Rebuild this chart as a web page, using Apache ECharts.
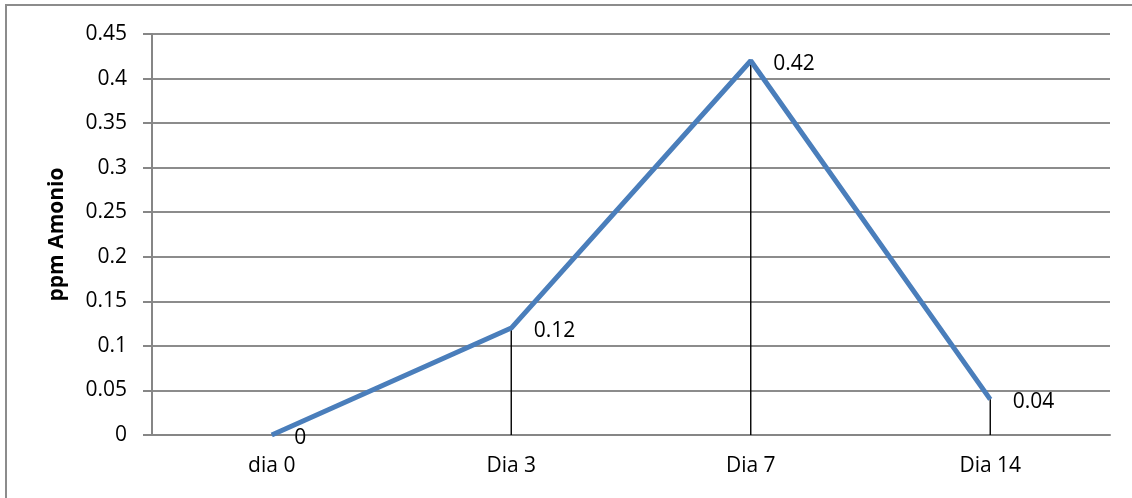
<!DOCTYPE html>
<html>
<head>
<meta charset="utf-8">
<script src="https://cdn.jsdelivr.net/npm/echarts@6/dist/echarts.min.js"></script>
<style>
  html, body { margin: 0; padding: 0; background: #fff; }
  #chart { width: 1132px; height: 498px; }
</style>
</head>
<body>
<div id="chart"></div>
<script>
// Ammonium concentration over the sampling days
const days = ['dia 0', 'Dia 3', 'Dia 7', 'Dia 14'];
const ammonium = [0, 0.12, 0.42, 0.04];
const yTicks = [0, 0.05, 0.1, 0.15, 0.2, 0.25, 0.3, 0.35, 0.4, 0.45];

const font = '"Open Sans", "Liberation Sans", sans-serif';
const fs = 21;
const chart = echarts.init(document.getElementById('chart'), null, { renderer: 'canvas' });

chart.setOption({
  animation: false,
  backgroundColor: '#fff',
  graphic: [{
    type: 'rect',
    shape: { x: 6, y: 5, width: 1140, height: 510 },
    style: { fill: 'none', stroke: '#8c8c8c', lineWidth: 2 },
    silent: true
  }],
  grid: { left: 152, right: 22, top: 34, bottom: 63 },
  xAxis: {
    type: 'category',
    data: days,
    boundaryGap: true,
    axisLine: { lineStyle: { color: '#868686', width: 2 } },
    axisTick: { show: false },
    axisLabel: { color: '#000', fontFamily: font, fontSize: fs, margin: 21 }
  },
  yAxis: {
    type: 'value',
    min: yTicks[0],
    max: yTicks[yTicks.length - 1],
    interval: 0.05,
    name: 'ppm Amonio',
    nameLocation: 'middle',
    nameGap: 84,
    nameTextStyle: { color: '#000', fontFamily: font, fontSize: fs, fontWeight: 'bold' },
    axisLine: { show: true, lineStyle: { color: '#868686', width: 2 } },
    axisTick: { show: true, length: 9, lineStyle: { color: '#868686', width: 2 } },
    axisLabel: {
      color: '#000', fontFamily: font, fontSize: fs, margin: 25,
      formatter: v => String(parseFloat(v.toFixed(2)))
    },
    splitLine: { lineStyle: { color: '#8c8c8c', width: 2 } }
  },
  series: [
    {
      // vertical drop lines from each point down to the axis
      type: 'bar',
      data: ammonium,
      barWidth: 1.4,
      itemStyle: { color: '#000' },
      silent: true,
      z: 2
    },
    {
      type: 'line',
      data: ammonium,
      symbol: 'circle',
      symbolSize: 1,
      showSymbol: true,
      itemStyle: { color: 'rgba(0,0,0,0)' },
      lineStyle: { color: '#4a7ebb', width: 5 },
      label: {
        show: true,
        position: 'right',
        distance: 22,
        offset: [0, 3],
        color: '#000',
        fontFamily: font,
        fontSize: fs
      },
      z: 3
    }
  ]
});
</script>
</body>
</html>
